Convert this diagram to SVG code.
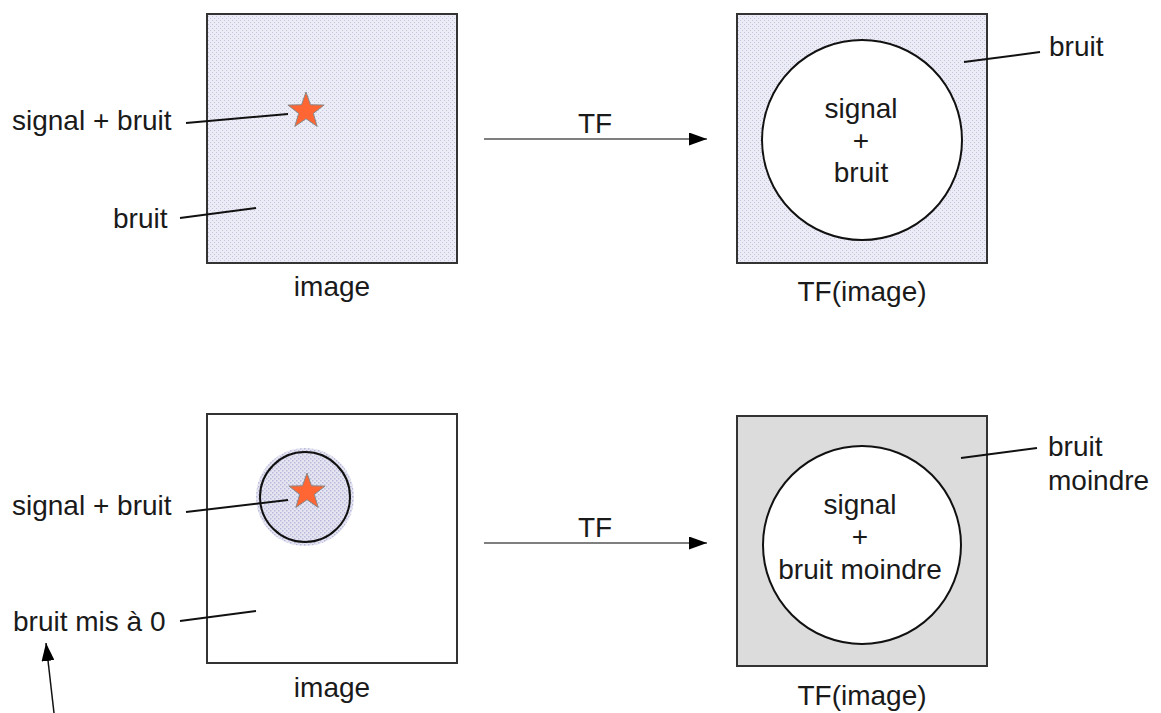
<svg xmlns="http://www.w3.org/2000/svg" width="1161" height="713" viewBox="0 0 1161 713">
<style>
text{font-family:"Liberation Sans",Arial,sans-serif;font-size:28px;fill:#1a1a1a}
.m{text-anchor:middle}
.box{stroke:#333;stroke-width:2}
.lead{stroke:#111;stroke-width:2;fill:none}
.arr{stroke:#555;stroke-width:1.6;fill:none}
.star{fill:#ff6633;stroke:#888;stroke-width:1}
.circ{fill:#fff;stroke:#111;stroke-width:2}
</style>
<defs>
<pattern id="noise" width="4" height="4" patternUnits="userSpaceOnUse">
<rect width="4" height="4" fill="#ececf6"/>
<rect x="0" y="0" width="1" height="1" fill="#c4c4de"/>
<rect x="2" y="2" width="1" height="1" fill="#c4c4de"/>
</pattern>
<pattern id="noise2" width="4" height="4" patternUnits="userSpaceOnUse">
<rect width="4" height="4" fill="#e6e6f3"/>
<rect x="0" y="0" width="1.5" height="1.5" fill="#b8b8da"/>
<rect x="2" y="2" width="1.5" height="1.5" fill="#b8b8da"/>
</pattern>
<marker id="ah" markerWidth="18" markerHeight="13" refX="18" refY="6.5" orient="auto" markerUnits="userSpaceOnUse">
<path d="M0,0 L18,6.5 L0,13 Z" fill="#000"/>
</marker>
<polygon id="starShape" points="0,-19 4.5,-6.2 18.1,-5.9 7.3,2.4 11.2,15.4 0,7.7 -11.2,15.4 -7.3,2.4 -18.1,-5.9 -4.5,-6.2"/>
</defs>

<g id="img1">
<rect class="box" x="207" y="14" width="250" height="249" fill="url(#noise)"/>
<use href="#starShape" class="star" x="306" y="111"/>
<text class="m" x="332" y="296">image</text>
</g>

<g id="tf1">
<rect class="box" x="737" y="14" width="250" height="249" fill="url(#noise)"/>
<circle class="circ" cx="862" cy="140" r="100"/>
<text class="m" x="861" y="118">signal</text>
<text class="m" x="861" y="150">+</text>
<text class="m" x="861" y="182">bruit</text>
<text class="m" x="862" y="301">TF(image)</text>
</g>

<g id="img2">
<rect class="box" x="207" y="414" width="250" height="249" fill="#fff"/>
<circle cx="305" cy="497" r="49" fill="url(#noise2)"/>
<circle cx="305" cy="497" r="45" fill="none" stroke="#111" stroke-width="2"/>
<use href="#starShape" class="star" x="307" y="492"/>
<text class="m" x="332" y="697">image</text>
</g>

<g id="tf2">
<rect class="box" x="737" y="416" width="250" height="250" fill="#dcdcdc"/>
<circle class="circ" cx="862" cy="545" r="99"/>
<text class="m" x="860" y="514">signal</text>
<text class="m" x="860" y="546">+</text>
<text class="m" x="860" y="579">bruit moindre</text>
<text class="m" x="862" y="705">TF(image)</text>
</g>

<g id="labels">
<text x="12" y="130">signal + bruit</text>
<text x="113" y="228">bruit</text>
<text x="1049" y="56">bruit</text>
<text x="12" y="515">signal + bruit</text>
<text x="13" y="631">bruit mis à 0</text>
<text x="1048" y="456">bruit</text>
<text x="1048" y="490">moindre</text>
<text class="m" x="595" y="133">TF</text>
<text class="m" x="595" y="537">TF</text>
</g>

<g id="connectors">
<line class="lead" x1="186" y1="123" x2="288" y2="114"/>
<line class="lead" x1="180" y1="218" x2="256" y2="208"/>
<line class="lead" x1="964" y1="62" x2="1040" y2="52"/>
<line class="lead" x1="186" y1="512" x2="288" y2="500"/>
<line class="lead" x1="180" y1="621" x2="256" y2="611"/>
<line class="lead" x1="961" y1="458" x2="1037" y2="448"/>
<line class="arr" x1="484" y1="139" x2="707" y2="139" marker-end="url(#ah)"/>
<line class="arr" x1="484" y1="543" x2="707" y2="543" marker-end="url(#ah)"/>
<line stroke="#111" stroke-width="1.5" x1="54" y1="713" x2="46" y2="643" marker-end="url(#ah)"/>
</g>
</svg>
